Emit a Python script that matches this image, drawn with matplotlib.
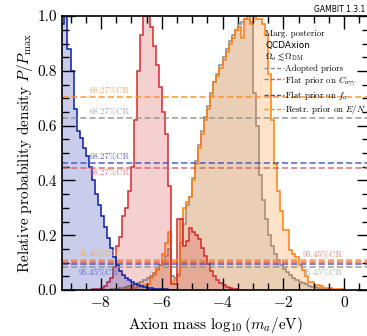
import numpy as np
import matplotlib
matplotlib.use("Agg")
import matplotlib.pyplot as plt
from matplotlib.lines import Line2D
from matplotlib.ticker import MultipleLocator

plt.rcParams['font.family'] = 'serif'
plt.rcParams['font.serif'] = ['cmr10', 'DejaVu Serif']
plt.rcParams['mathtext.fontset'] = 'cm'
plt.rcParams['axes.formatter.use_mathtext'] = True

BIN = 0.1

# marginal posteriors, 0.1-wide bins in log10(m_a/eV), first bin edge given
blue_start = -9.3
blue_vals = [0.97, 1.0, 0.88, 0.80, 0.66, 0.58, 0.555, 0.52, 0.49, 0.45,
             0.40, 0.35, 0.31, 0.27, 0.23, 0.19, 0.155, 0.12, 0.09, 0.07,
             0.055, 0.045, 0.035, 0.028, 0.022, 0.017, 0.013, 0.01, 0.008, 0.006,
             0.005, 0.004, 0.003, 0.002, 0.002, 0.001, 0.001, 0.0]

red_start = -8.3
red_vals = [0.002, 0.003, 0.005, 0.008, 0.015, 0.03, 0.045, 0.085, 0.16, 0.195,
            0.27, 0.30, 0.36, 0.45, 0.62, 0.80, 0.93, 1.0, 1.0, 0.96,
            0.89, 0.82, 0.74, 0.65, 0.57, 0.38, 0.02, 0.02, 0.26, 0.26,
            0.16, 0.18, 0.225, 0.21, 0.20, 0.185, 0.155, 0.125, 0.095, 0.07,
            0.05, 0.038, 0.027, 0.018, 0.012, 0.007, 0.004, 0.002, 0.0]

gray_start = -7.7
gray_vals = [0.002, 0.003, 0.004, 0.006, 0.008, 0.01, 0.013, 0.016, 0.02, 0.024,
             0.03, 0.035, 0.043, 0.05, 0.062, 0.075, 0.09, 0.105, 0.125, 0.15,
             0.05, 0.045, 0.06, 0.17, 0.24, 0.31, 0.34, 0.41, 0.47, 0.53,
             0.58, 0.63, 0.67, 0.72, 0.76, 0.79, 0.82, 0.85, 0.88, 0.91,
             0.93, 0.95, 0.97, 0.98, 0.99, 1.0, 0.98, 0.72, 0.60, 0.42,
             0.33, 0.26, 0.20, 0.16, 0.13, 0.11, 0.09, 0.078, 0.065, 0.055,
             0.045, 0.038, 0.03, 0.025, 0.02, 0.016, 0.012, 0.01, 0.008, 0.006,
             0.005, 0.004, 0.002, 0.0]

orange_start = -7.2
orange_vals = [0.003, 0.005, 0.006, 0.008, 0.01, 0.013, 0.017, 0.022, 0.043, 0.055,
               0.073, 0.091, 0.13, 0.17, 0.21, 0.03, 0.035, 0.05, 0.26, 0.30,
               0.32, 0.34, 0.40, 0.46, 0.52, 0.57, 0.62, 0.66, 0.71, 0.76,
               0.78, 0.81, 0.84, 0.87, 0.90, 0.92, 0.95, 0.96, 0.92, 0.99,
               0.99, 0.97, 1.0, 0.99, 0.99, 0.97, 0.93, 0.79, 0.62, 0.46,
               0.36, 0.29, 0.22, 0.22, 0.146, 0.13, 0.12, 0.09, 0.073, 0.05,
               0.03, 0.03, 0.018, 0.018, 0.015, 0.006, 0.006, 0.006, 0.005, 0.005,
               0.004, 0.003, 0.0]

# credible-region levels
cr68 = {'orange': 0.705, 'gray': 0.628, 'blue': 0.462, 'red': 0.446}
cr95 = {'orange': 0.109, 'red': 0.103, 'blue': 0.095, 'gray': 0.083}

edge_col = {'gray': '#8a8a8a', 'red': '#d42a2e', 'blue': '#0a1ea8', 'orange': '#ff7f0e'}
line_col = {'gray': '#8f8f8f', 'red': '#e05a5c', 'blue': '#3c4cc0', 'orange': '#ff8a22'}
text_col = {'gray': '#a8a8a8', 'red': '#e77a7c', 'blue': '#5060c8', 'orange': '#f4a45c'}

series = [('gray', gray_start, gray_vals),
          ('orange', orange_start, orange_vals),
          ('red', red_start, red_vals),
          ('blue', blue_start, blue_vals)]

fig = plt.figure(figsize=(3.67, 3.36), dpi=100)
ax = fig.add_axes([0.169, 0.137, 0.8365, 0.815])

for name, start, vals in series:
    edges = start + BIN * np.arange(len(vals) + 1)
    ax.stairs(vals, edges, fill=True, color=edge_col[name], alpha=0.22, lw=0)
    ax.stairs(vals, edges, color=edge_col[name], lw=1.1)

for name in ['orange', 'gray', 'blue', 'red']:
    ax.axhline(cr68[name], color=line_col[name], ls=(0, (4, 2)), lw=1.1, alpha=0.9)
    ax.axhline(cr95[name], color=line_col[name], ls=(0, (4, 2)), lw=1.1, alpha=0.9)

fs = 6.3
ax.text(-8.36, cr68['orange'] + 0.006, '68.27%CR', color=text_col['orange'], fontsize=fs, va='bottom')
ax.text(-8.36, cr68['gray'] + 0.006, '68.27%CR', color=text_col['gray'], fontsize=fs, va='bottom')
ax.text(-8.36, cr68['blue'] + 0.006, '68.27%CR', color=text_col['blue'], fontsize=fs, va='bottom')
ax.text(-8.36, cr68['red'] - 0.006, '68.27%CR', color=text_col['red'], fontsize=fs, va='top')
ax.text(-8.75, cr95['orange'] + 0.006, '95.45%CR', color=text_col['orange'], fontsize=fs, va='bottom')
ax.text(-8.75, cr95['blue'] - 0.02, '95.45%CR', color=text_col['blue'], fontsize=fs, va='top')
ax.text(-1.38, cr95['red'] + 0.01, '95.45%CR', color=text_col['red'], fontsize=fs, va='bottom')
ax.text(-1.38, cr95['gray'] - 0.006, '95.45%CR', color=text_col['gray'], fontsize=fs, va='top')

ax.set_xlim(-9.28, 0.82)
ax.set_ylim(0, 1.0)
ax.xaxis.set_major_locator(MultipleLocator(2))
ax.xaxis.set_minor_locator(MultipleLocator(0.5))
ax.yaxis.set_major_locator(MultipleLocator(0.2))
ax.yaxis.set_minor_locator(MultipleLocator(0.05))
ax.tick_params(which='both', direction='in', top=True, right=True, labelsize=11, width=1.0)
ax.tick_params(which='major', length=9)
ax.tick_params(which='minor', length=5)
ax.yaxis.set_major_formatter(matplotlib.ticker.FormatStrFormatter('%.1f'))
for s in ax.spines.values():
    s.set_linewidth(1.2)

ax.set_xlabel(r'Axion mass $\log_{10}\left(m_a/\mathrm{eV}\right)$', fontsize=11, labelpad=4)
ax.set_ylabel(r'Relative probability density $P/P_\mathrm{max}$', fontsize=11, labelpad=2)

# legend block
lfs = 6.4
ax.text(0.662, 0.935, 'Marg. posterior', transform=ax.transAxes, fontsize=lfs, va='center')
ax.text(0.662, 0.893, 'QCDAxion', transform=ax.transAxes, fontsize=lfs, va='center', family='DejaVu Sans')
ax.text(0.662, 0.850, r'$\Omega_a \lesssim \Omega_\mathrm{DM}$', transform=ax.transAxes, fontsize=lfs, va='center')
handles = [Line2D([], [], color=line_col[n], ls=(0, (3, 1.5)), lw=1.0) for n in ['gray', 'red', 'blue', 'orange']]
labels = ['Adopted priors', r'Flat prior on $C_{a\gamma\gamma}$', r'Flat prior on $f_a$', r'Restr. prior on $E/N$']
ax.legend(handles, labels, loc='upper left', bbox_to_anchor=(0.652, 0.83), frameon=False, fontsize=lfs,
          handlelength=2.2, handletextpad=0.2, labelspacing=0.12, borderpad=0.2, borderaxespad=0.0)

fig.text(0.995, 0.985, 'GAMBIT 1.3.1', ha='right', va='top', fontsize=5.5, family='DejaVu Sans')

fig.savefig('out.png', dpi=100)
